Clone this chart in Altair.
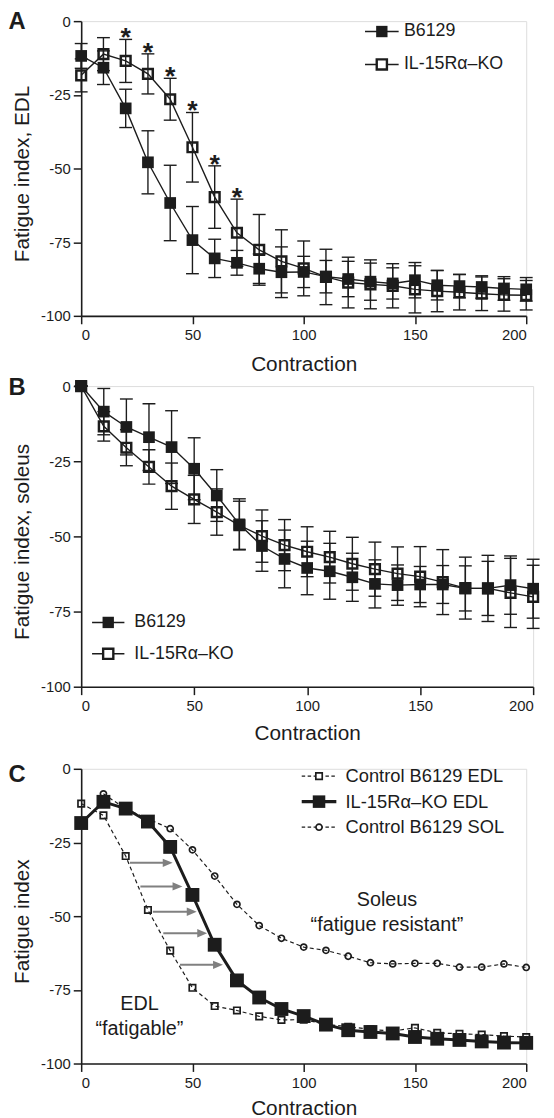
import altair as alt
import pandas as pd

# ---------------- data ----------------
contraction = [0, 10, 20, 30, 40, 50, 60, 70, 80, 90, 100, 110, 120, 130, 140, 150, 160, 170, 180, 190, 200]

# Panel A: EDL
edl_b6129 = [-11.8, -15.8, -29.6, -47.9, -61.7, -74.3, -80.5, -82.0, -84.0, -85.2, -85.1,
             -86.7, -87.5, -88.4, -89.0, -87.9, -89.6, -89.9, -90.2, -90.7, -91.0]
edl_b6129_sd = [4.2, 5.7, 6.5, 10.7, 12.8, 11.4, 6.5, 4.2, 5.0, 8.6, 5.3,
                5.5, 6.0, 6.3, 5.3, 6.0, 5.0, 4.0, 3.8, 4.0, 4.0]
edl_ko = [-18.4, -11.2, -13.5, -17.9, -26.5, -42.8, -59.7, -71.8, -77.6, -81.5, -83.9,
          -86.8, -88.7, -89.3, -89.8, -91.0, -91.6, -92.0, -92.5, -92.9, -93.0]
edl_ko_sd = [5.6, 5.6, 7.3, 6.8, 7.1, 11.8, 10.6, 11.4, 12.0, 10.7, 9.3,
             9.4, 8.6, 8.3, 7.5, 8.0, 7.0, 6.0, 5.7, 5.5, 5.0]
star_contraction = [20, 30, 40, 50, 60, 70]

# Panel B: soleus
sol_b6129 = [0.0, -8.5, -13.6, -17.0, -20.3, -27.5, -36.4, -46.0, -53.2, -57.5, -60.5,
             -61.6, -63.6, -65.8, -66.2, -66.0, -66.0, -67.3, -67.3, -66.2, -67.4]
sol_b6129_sd = [0.0, 7.7, 9.3, 11.1, 12.1, 10.3, 8.6, 8.5, 8.4, 9.6, 8.9,
                9.3, 8.0, 8.0, 6.7, 6.0, 6.3, 7.5, 9.0, 9.7, 9.8]
sol_ko = [0.0, -13.4, -20.5, -26.9, -33.3, -37.7, -41.9, -46.3, -49.9, -52.9, -55.1,
          -56.9, -59.1, -60.9, -62.4, -63.4, -65.2, -67.2, -67.3, -68.8, -70.1]
sol_ko_sd = [0.0, 4.9, 6.0, 5.7, 7.7, 8.0, 7.7, 8.0, 8.7, 8.5, 8.3,
             8.6, 8.8, 9.0, 8.9, 10.0, 10.8, 10.3, 11.0, 11.5, 10.5]

# Panel C annotations
arrow_y = [-31.9, -39.9, -48.5, -55.8, -66.5]
arrow_x_start = [21.9, 26.6, 32.2, 36.9, 44.4]
arrow_x_end = [41.1, 45.5, 51.9, 56.6, 63.7]
annot_text = ["Soleus", "\u201cfatigue resistant\u201d", "EDL", "\u201cfatigable\u201d"]
annot_x = [137.4, 137.4, 26.2, 26.2]
annot_y = [-44.4, -52.9, -79.8, -88.4]

series_ab = ["B6129", "IL-15R\u03b1\u2013KO"]
series_c = ["Control B6129 EDL", "IL-15R\u03b1\u2013KO EDL", "Control B6129 SOL"]

x_ticks = [0, 50, 100, 150, 200]
y_ticks = [0, -25, -50, -75, -100]

# ---------------- style ----------------
INK = "#1c1c1c"
GRAY = "#808080"
FONT = "Liberation Sans"


def long_df(names, means, sds, xs):
    rows = []
    for name, m, s in zip(names, means, sds):
        for x, v, e in zip(xs, m, s):
            rows.append({"series": name, "contraction": x, "value": v,
                         "lo": v - e, "hi": v + e})
    return pd.DataFrame(rows)


def x_enc(tpad, field="contraction"):
    return alt.X(f"{field}:Q",
                 scale=alt.Scale(domain=[0, 200], nice=False, zero=False),
                 axis=alt.Axis(values=x_ticks, title="Contraction", grid=False,
                               labelExpr="'' + datum.value",
                               labelFont=FONT, labelFontSize=15, labelColor=INK,
                               titleFont=FONT, titleFontSize=21, titleFontWeight="normal",
                               titleColor=INK, tickSize=8, tickColor=INK, tickWidth=1.5,
                               domainColor=INK, domainWidth=1.6, labelPadding=4,
                               titlePadding=tpad))


def y_enc(field, title, h):
    return alt.Y(f"{field}:Q",
                 scale=alt.Scale(domain=[-100, 0], nice=False, zero=False),
                 axis=alt.Axis(values=y_ticks, title=title, grid=False,
                               labelExpr="'' + datum.value",
                               labelFont=FONT, labelFontSize=15, labelColor=INK,
                               titleFont=FONT, titleFontSize=21, titleFontWeight="normal",
                               titleColor=INK, tickSize=8, tickColor=INK, tickWidth=1.5,
                               domainColor=INK, domainWidth=1.6, labelPadding=3,
                               titlePadding=8, titleY=h / 2 + 5))


def legend_entry(label, yc, x_left, x_right, x_text, line_w, dash,
                 shape, msize, filled, mstroke, font_size):
    base = alt.Chart(pd.DataFrame({"label": [label]}))
    lk = dict(color=INK, strokeWidth=line_w)
    if dash:
        lk["strokeDash"] = dash
    line = base.mark_rule(**lk).encode(
        x=alt.value(x_left), x2=alt.value(x_right), y=alt.value(yc))
    if filled:
        mk = base.mark_point(shape=shape, size=msize, filled=True, color=INK, opacity=1)
    else:
        mk = base.mark_point(shape=shape, size=msize, filled=False, fill="white",
                             stroke=INK, strokeWidth=mstroke, opacity=1)
    mk = mk.encode(x=alt.value((x_left + x_right) / 2), y=alt.value(yc))
    txt = base.mark_text(align="left", baseline="middle", font=FONT,
                         fontSize=font_size, color=INK).encode(
        x=alt.value(x_text), y=alt.value(yc), text="label:N")
    return [line, mk, txt]


def letter_layer(letter, dy):
    return alt.Chart(pd.DataFrame({"label": [letter]})).mark_text(
        align="left", baseline="middle", font=FONT, fontSize=24,
        fontWeight="bold", color=INK
    ).encode(text="label:N", x=alt.value(-73.5), y=alt.value(dy))


def ab_panel(means_sds, title, w, h, tpad, letter, letter_dy, leg, with_stars):
    df = long_df(series_ab, [m for m, _ in means_sds], [s for _, s in means_sds], contraction)
    X = x_enc(tpad)
    layers = [
        alt.Chart(df).mark_rule(color=INK, strokeWidth=1.4).encode(
            x=X, y=y_enc("lo", title, h), y2="hi:Q", detail="series:N"),
        alt.Chart(df).mark_tick(orient="horizontal", size=13, thickness=1.4,
                                color=INK, opacity=1).encode(
            x=X, y=y_enc("lo", title, h), detail="series:N"),
        alt.Chart(df).mark_tick(orient="horizontal", size=13, thickness=1.4,
                                color=INK, opacity=1).encode(
            x=X, y=y_enc("hi", title, h), detail="series:N"),
        alt.Chart(df).mark_line(color=INK, strokeWidth=1.4).encode(
            x=X, y=y_enc("value", title, h), detail="series:N"),
        alt.Chart(df).transform_filter(alt.datum.series == series_ab[0]).mark_point(
            shape="square", filled=True, size=140, color=INK, opacity=1).encode(
            x=X, y=y_enc("value", title, h)),
        alt.Chart(df).transform_filter(alt.datum.series == series_ab[1]).mark_point(
            shape="square", filled=False, fill="transparent", size=96, stroke=INK,
            strokeWidth=2.5, opacity=1).encode(
            x=X, y=y_enc("value", title, h)),
    ]
    if with_stars:
        sdf = df[(df.series == series_ab[1]) & (df.contraction.isin(star_contraction))]
        layers.append(alt.Chart(sdf).mark_text(
            text="*", font=FONT, fontSize=27, fontWeight="bold", color=INK,
            baseline="alphabetic", dy=7).encode(
            x=X, y=y_enc("hi", title, h)))
    x_left, width, x_text, y0, dy = leg
    layers += legend_entry(series_ab[0], y0, x_left, x_left + width, x_text, 1.5, None,
                           "square", 132, True, 0, 18)
    layers += legend_entry(series_ab[1], y0 + dy, x_left, x_left + width, x_text, 1.5, None,
                           "square", 106, False, 2.4, 18)
    layers.append(letter_layer(letter, letter_dy))
    return alt.layer(*layers).properties(width=w, height=h)


# ---------------- panel A ----------------
panel_a = ab_panel([(edl_b6129, edl_b6129_sd), (edl_ko, edl_ko_sd)],
                   "Fatigue index, EDL", 450, 298, 11, "A", 1.3,
                   (287, 34, 326.3, 10.5, 33.3), True)

# ---------------- panel B ----------------
panel_b = ab_panel([(sol_b6129, sol_b6129_sd), (sol_ko, sol_ko_sd)],
                   "Fatigue index, soleus", 457, 304, 9, "B", 2.2,
                   (11, 32.7, 53.7, 239, 31.7), False)

# ---------------- panel C ----------------
WC, HC = 450, 298
TC = "Fatigue index"
XC = x_enc(8)
df_c = pd.DataFrame({
    "contraction": contraction * 2 + contraction[1:],
    "value": edl_b6129 + edl_ko + sol_b6129[1:],
    "series": [series_c[0]] * len(contraction) + [series_c[1]] * len(contraction)
              + [series_c[2]] * (len(contraction) - 1),
})
arrows = pd.DataFrame({"y": arrow_y, "x0": arrow_x_start, "x1": arrow_x_end})
arrows["x1_line"] = arrows["x1"] - 3
annots = pd.DataFrame({"text": annot_text, "x": annot_x, "y": annot_y})


def c_series(name):
    return alt.Chart(df_c).transform_filter(alt.datum.series == name)


c_layers = [
    c_series(series_c[2]).mark_line(color=INK, strokeWidth=1.2, strokeDash=[4, 3]).encode(
        x=XC, y=y_enc("value", TC, HC)),
    c_series(series_c[2]).mark_point(shape="circle", size=38, filled=False, fill="transparent",
                                     stroke=INK, strokeWidth=1.7, opacity=1).encode(
        x=XC, y=y_enc("value", TC, HC)),
    c_series(series_c[0]).mark_line(color=INK, strokeWidth=1.2, strokeDash=[4, 3]).encode(
        x=XC, y=y_enc("value", TC, HC)),
    c_series(series_c[0]).mark_point(shape="square", size=42, filled=False, fill="transparent",
                                     stroke=INK, strokeWidth=1.7, opacity=1).encode(
        x=XC, y=y_enc("value", TC, HC)),
    alt.Chart(arrows).mark_rule(color=GRAY, strokeWidth=2).encode(
        x=x_enc(8, "x0"), x2="x1_line:Q", y=y_enc("y", TC, HC)),
    alt.Chart(arrows).mark_point(shape="M0,0L-1,-0.42L-1,0.42Z", size=400, filled=True,
                                 color=GRAY, opacity=1).encode(
        x=x_enc(8, "x1"), y=y_enc("y", TC, HC)),
    c_series(series_c[1]).mark_line(color=INK, strokeWidth=3).encode(
        x=XC, y=y_enc("value", TC, HC)),
    c_series(series_c[1]).mark_point(shape="square", size=196, filled=True, color=INK,
                                     opacity=1).encode(
        x=XC, y=y_enc("value", TC, HC)),
    alt.Chart(annots).mark_text(font=FONT, fontSize=20, color=INK, align="center",
                                baseline="middle").encode(
        x=x_enc(8, "x"), y=y_enc("y", TC, HC), text="text:N"),
]

CL, CW, CT, CY, CD = 223, 35, 267.3, 7.4, 25.8
c_layers += legend_entry(series_c[0], CY, CL, CL + CW, CT, 1.2, [3.5, 2.5],
                         "square", 42, False, 1.7, 18.5)
c_layers += legend_entry(series_c[1], CY + CD, CL, CL + CW, CT, 3.3, None,
                         "square", 160, True, 0, 18.5)
c_layers += legend_entry(series_c[2], CY + 2 * CD, CL, CL + CW, CT, 1.2, [3.5, 2.5],
                         "circle", 38, False, 1.7, 18.5)
c_layers.append(letter_layer("C", 6))
panel_c = alt.layer(*c_layers).properties(width=WC, height=HC)

chart = alt.vconcat(
    alt.vconcat(panel_a, panel_b, spacing=0),
    panel_c, spacing=17,
).properties(
    padding={"left": 0, "top": -5, "right": 2, "bottom": 10}
).configure_view(stroke=None).configure(font=FONT)

chart.save("out.html", embed_options={"renderer": "svg", "actions": False})
